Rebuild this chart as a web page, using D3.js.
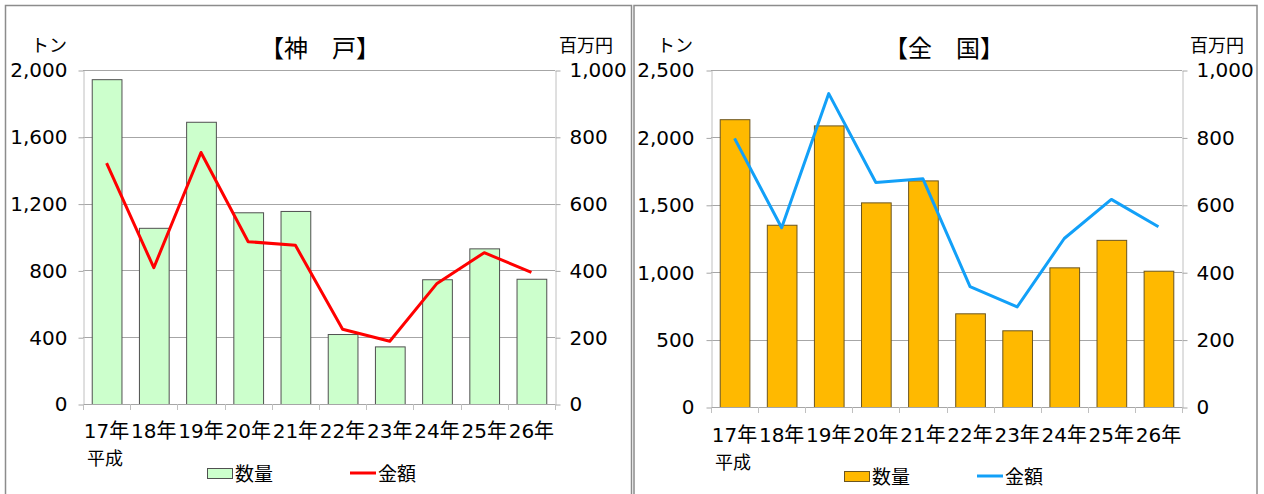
<!DOCTYPE html>
<html>
<head>
<meta charset="utf-8">
<script src="https://cdn.jsdelivr.net/npm/d3@7"></script>
<style>
  html, body { margin: 0; padding: 0; background: #fff; }
  svg { display: block; }
  text { font-family: "DejaVu Sans", "Noto Sans CJK JP", sans-serif; fill: #000; }
  .jp { font-family: "Noto Sans CJK JP", sans-serif; }
</style>
</head>
<body>
<svg id="canvas" width="1264" height="494"></svg>
<script>
// 平成17年〜26年
const years = ["17年", "18年", "19年", "20年", "21年", "22年", "23年", "24年", "25年", "26年"];

// 神戸: 数量(トン) / 金額(百万円)
const kobeQty = [1945, 1055, 1690, 1148, 1156, 419, 345, 747, 932, 750];
const kobeAmt = [721, 408, 753, 486, 475, 224, 188, 361, 453, 394];

// 全国
const zenQty = [2135, 1352, 2089, 1518, 1681, 695, 569, 1036, 1240, 1011];
const zenAmt = [797, 532, 930, 666, 677, 357, 297, 500, 616, 535];

const kobeQtyTicks = [0, 400, 800, 1200, 1600, 2000];
const zenQtyTicks = [0, 500, 1000, 1500, 2000, 2500];
const amtTicks = [0, 200, 400, 600, 800, 1000];

const svg = d3.select("#canvas");

// 枠
svg.append("rect").attr("x", 5.5).attr("y", 5.5).attr("width", 626).attr("height", 520)
    .attr("fill", "none").attr("stroke", "#8c8c8c").attr("stroke-width", 1.5);
svg.append("rect").attr("x", 634).attr("y", 5.5).attr("width", 623).attr("height", 520)
    .attr("fill", "none").attr("stroke", "#8c8c8c").attr("stroke-width", 1.5);

function drawPanel(opt) {
    const g = svg.append("g");
    const { x0, x1, y0, y1 } = opt.plot;

    const x = d3.scaleBand().domain(years).range([x0, x1])
        .paddingInner(0.37).paddingOuter(0.185);
    const yL = d3.scaleLinear().domain([0, d3.max(opt.qtyTicks)]).range([y1, y0]);
    const yR = d3.scaleLinear().domain([0, d3.max(amtTicks)]).range([y1, y0]);

    // グリッド
    g.append("g").selectAll("line").data(opt.qtyTicks.slice(1)).join("line")
        .attr("x1", x0).attr("x2", x1)
        .attr("y1", d => Math.round(yL(d)) + 0.5).attr("y2", d => Math.round(yL(d)) + 0.5)
        .attr("stroke", "#a6a6a6").attr("stroke-width", 1);

    // 左軸
    const axL = g.append("g").attr("transform", `translate(${x0 + 0.5},0.5)`)
        .call(d3.axisLeft(yL).tickValues(opt.qtyTicks).tickSize(5).tickSizeOuter(0)
            .tickPadding(opt.padL).tickFormat(d3.format(",")));
    // 右軸
    const axR = g.append("g").attr("transform", `translate(${x1 + 0.5},0.5)`)
        .call(d3.axisRight(yR).tickValues(amtTicks).tickSize(5).tickSizeOuter(0)
            .tickPadding(opt.padR).tickFormat(d3.format(",")));
    [axL, axR].forEach(ax => {
        ax.select(".domain").attr("stroke", "#c0c0c0");
        ax.selectAll(".tick line").attr("stroke", "#a6a6a6");
        ax.selectAll(".tick text").attr("font-size", 20)
            .attr("font-family", "DejaVu Sans").attr("fill", "#111");
    });

    // 棒
    g.append("g").selectAll("rect").data(opt.qty).join("rect")
        .attr("x", (d, i) => x(years[i]) + 0.5)
        .attr("y", d => yL(d) + 0.5)
        .attr("width", x.bandwidth())
        .attr("height", d => yL(0) - yL(d))
        .attr("fill", opt.barFill).attr("stroke", opt.barStroke).attr("stroke-width", 1);

    // X軸
    const step = x.step();
    const edges = years.map(c => x(c) - (step - x.bandwidth()) / 2).concat([x1]);
    g.append("line").attr("x1", x0).attr("x2", x1)
        .attr("y1", Math.round(y1) + 0.5).attr("y2", Math.round(y1) + 0.5)
        .attr("stroke", "#a6a6a6");
    g.append("g").selectAll("line").data(edges).join("line")
        .attr("x1", d => Math.round(d) + 0.5).attr("x2", d => Math.round(d) + 0.5)
        .attr("y1", y1).attr("y2", y1 + 6)
        .attr("stroke", "#c0c0c0");
    g.append("g").selectAll("text").data(years).join("text")
        .attr("x", d => x(d) + x.bandwidth() / 2)
        .attr("y", y1 + opt.labelDy)
        .attr("text-anchor", "middle")
        .attr("font-size", 20)
        .text(d => d);
    g.append("text").attr("class", "jp")
        .attr("x", x0 + 4).attr("y", y1 + opt.labelDy + 27)
        .attr("text-anchor", "start").attr("font-size", 18)
        .text("平成");

    // 折れ線
    const line = d3.line()
        .x((d, i) => x(years[i]) + x.bandwidth() / 2)
        .y(d => yR(d));
    g.append("path").datum(opt.amt)
        .attr("d", line)
        .attr("fill", "none").attr("stroke", opt.lineColor).attr("stroke-width", 3)
        .attr("stroke-linejoin", "round");

    // タイトル・単位
    g.append("text").attr("class", "jp")
        .attr("x", opt.titleX).attr("y", 57)
        .attr("text-anchor", "middle").attr("font-size", 24).attr("font-weight", "normal")
        .text(opt.title);
    g.append("text").attr("class", "jp")
        .attr("x", opt.unitLX).attr("y", 52).attr("text-anchor", "end").attr("font-size", 18)
        .text("トン");
    g.append("text").attr("class", "jp")
        .attr("x", opt.unitRX).attr("y", 52).attr("text-anchor", "start").attr("font-size", 18)
        .text("百万円");

    // 凡例
    const lg = opt.legend;
    g.append("rect").attr("x", lg.sx + 0.5).attr("y", lg.sy + 0.5).attr("width", 25).attr("height", 10)
        .attr("fill", opt.barFill).attr("stroke", opt.barStroke);
    g.append("text").attr("class", "jp").attr("x", lg.sx + 28).attr("y", lg.sy + 13)
        .attr("font-size", 19).text("数量");
    g.append("line").attr("x1", lg.lx).attr("x2", lg.lx + 26)
        .attr("y1", lg.sy + 5).attr("y2", lg.sy + 5)
        .attr("stroke", opt.lineColor).attr("stroke-width", 3);
    g.append("text").attr("class", "jp").attr("x", lg.lx + 28).attr("y", lg.sy + 13)
        .attr("font-size", 19).text("金額");
}

drawPanel({
    title: "【神　戸】", titleX: 320,
    plot: { x0: 83, x1: 555, y0: 70, y1: 404 },
    qty: kobeQty, amt: kobeAmt, qtyTicks: kobeQtyTicks,
    barFill: "#ccffcc", barStroke: "#505050", lineColor: "#ff0000",
    padL: 11, padR: 9, labelDy: 34,
    unitLX: 67, unitRX: 559,
    legend: { sx: 207, sy: 468, lx: 350 }
});

drawPanel({
    title: "【全　国】", titleX: 944,
    plot: { x0: 711, x1: 1182, y0: 70, y1: 407 },
    qty: zenQty, amt: zenAmt, qtyTicks: zenQtyTicks,
    barFill: "#ffb900", barStroke: "#6b5520", lineColor: "#12a0f8",
    padL: 12, padR: 9, labelDy: 35,
    unitLX: 693, unitRX: 1190,
    legend: { sx: 844, sy: 471, lx: 977 }
});
</script>
</body>
</html>
